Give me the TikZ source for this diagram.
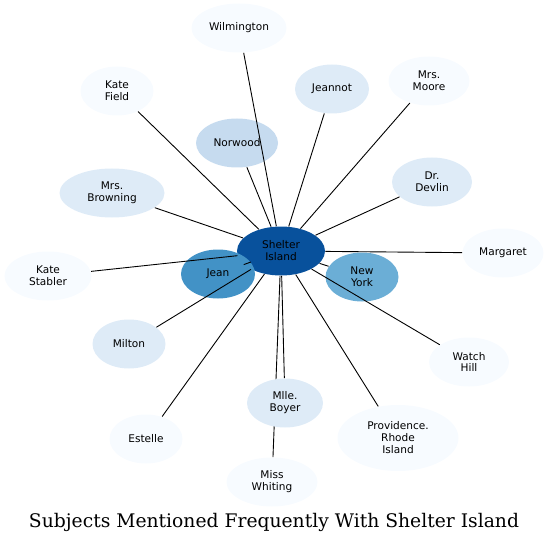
\documentclass[tikz,border=0pt]{standalone}
\usepackage{fontspec}
\newfontfamily\topicfont{DejaVu Sans}
\newfontfamily\titlefont{DejaVu Serif}
\usetikzlibrary{shapes.geometric}

\definecolor{blueA}{HTML}{F7FBFF}
\definecolor{blueB}{HTML}{DEEBF7}
\definecolor{blueC}{HTML}{C6DBEF}
\definecolor{blueE}{HTML}{6BAED6}
\definecolor{blueF}{HTML}{4292C6}
\definecolor{blueH}{HTML}{08519C}

\begin{document}
\begin{tikzpicture}[x=1bp,y=-1bp,line width=0.9pt]
%x,y in pixels of the 549x543 page

   \tikzstyle{topic}=[ellipse,inner sep=0pt,minimum height=49bp,align=center,
     font=\topicfont\fontsize{10.6}{12}\selectfont]
  \useasboundingbox (0,0) rectangle (549,543);

  \node[topic,fill=blueH,minimum width=88bp] (shelter) at (281,251) {Shelter\\Island};
  \node[topic,fill=blueA,minimum width=95bp] (wilm)    at (239,28)  {Wilmington};
  \node[topic,fill=blueA,minimum width=73bp] (kfield)  at (117,91)  {Kate\\Field};
  \node[topic,fill=blueB,minimum width=74bp] (jeannot) at (332,89)  {Jeannot};
  \node[topic,fill=blueA,minimum width=81bp] (moore)   at (429,81)  {Mrs.\\Moore};
  \node[topic,fill=blueC,minimum width=82bp] (norwood) at (237,143) {Norwood};
  \node[topic,fill=blueB,minimum width=105bp] (browning) at (112,193) {Mrs.\\Browning};
  \node[topic,fill=blueB,minimum width=80bp] (devlin)  at (432,182) {Dr.\\Devlin};
  \node[topic,fill=blueA,minimum width=81bp] (margaret) at (503,253) {Margaret};
  \node[topic,fill=blueA,minimum width=87bp] (kstabler) at (48,276) {Kate\\Stabler};
  \node[topic,fill=blueF,minimum width=74bp] (jean)    at (218,274) {Jean};
  \node[topic,fill=blueE,minimum width=73bp] (newyork) at (362,277) {New\\York};
  \node[topic,fill=blueB,minimum width=73bp] (milton)  at (129,344) {Milton};
  \node[topic,fill=blueA,minimum width=80bp] (watch)   at (469,362) {Watch\\Hill};
  \node[topic,fill=blueA,minimum width=73bp] (estelle) at (146,439) {Estelle};
  \node[topic,fill=blueA,minimum width=121bp,minimum height=66bp] (provid) at (398,438) {Providence.\\Rhode\\Island};
  \node[topic,fill=blueA,minimum width=91bp] (whiting) at (272,482) {Miss\\Whiting};

 \path (shelter) edge (wilm)
            edge (kfield)
            edge (jeannot)
            edge (moore)
            edge (norwood)
            edge (browning)
            edge (devlin)
            edge (margaret)
            edge (kstabler)
            edge (jean)
            edge (newyork)
            edge (milton)
            edge (watch)
            edge (estelle)
            edge (provid)
            edge (whiting);

% Boyer sits on top of the Whiting line
  \node[topic,fill=blueB,minimum width=76bp] (boyer)   at (285,403) {Mlle.\\Boyer};
 \path (shelter) edge (boyer);

  \node (title) at (274,522) {\titlefont\fontsize{18.8}{22}\selectfont Subjects Mentioned Frequently With Shelter Island};
\end{tikzpicture}
\end{document}
